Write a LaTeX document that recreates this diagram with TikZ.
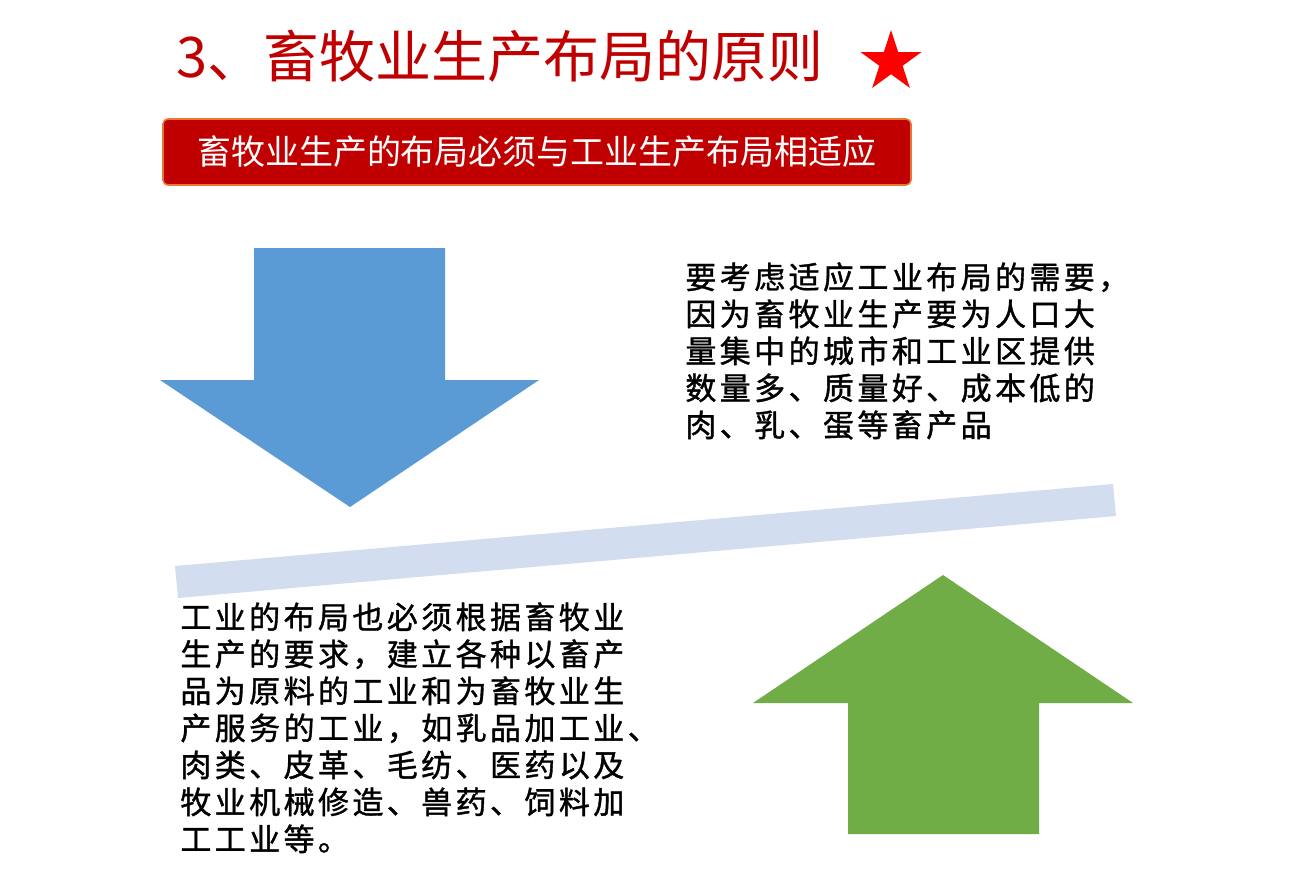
\documentclass[tikz,border=0pt]{standalone}
\usepackage{fontspec}
\newfontfamily\cjk{Noto Sans CJK SC}
\newfontfamily\cjkbody[FakeBold=1.2, LetterSpace=11]{Noto Sans CJK SC}
\usetikzlibrary{shapes.geometric,positioning}
\definecolor{titlered}{RGB}{192,0,0}
\definecolor{bannerred}{RGB}{192,0,0}
\definecolor{bannerline}{RGB}{230,120,50}
\definecolor{arrowblue}{RGB}{91,155,213}
\definecolor{arrowgreen}{RGB}{112,173,71}
\definecolor{barblue}{RGB}{210,222,239}

\tikzset{
    titletext/.style={font=\cjk\fontsize{28}{30}\selectfont, text=titlered, inner sep=0pt, anchor=west},
    banner/.style={fill=bannerred, draw=bannerline, line width=0.8pt, rounded corners=2.5pt},
    bannertext/.style={font=\cjk\fontsize{17}{19}\selectfont, text=white, inner sep=0pt},
    bodytext/.style={font=\cjkbody\fontsize{15.5}{18.5}\selectfont, text=black, align=left, inner sep=0pt, anchor=north west}
}

\begin{document}
\begin{tikzpicture}[x=0.5pt, y=-0.5pt]
    \useasboundingbox (0,0) rectangle (1292,884);
    \fill[white] (0,0) rectangle (1292,884);

    % Title and star
    \node[titletext] (title) at (176,56) {3、畜牧业生产布局的原则};
    \node[star, star points=5, star point ratio=2.618, fill=red, inner sep=0pt,
          minimum size=32pt] (mark) at (891,62) {};

    % Banner
    \draw[banner] (163,119) rectangle (911,185);
    \node[bannertext] (bannerlabel) at (537,152) {畜牧业生产的布局必须与工业生产布局相适应};

    % Down arrow (blue)
    \fill[arrowblue] (254,248) -- (445,248) -- (445,380) -- (539,380)
        -- (350,507) -- (160,380) -- (254,380) -- cycle;

    % Slanted bar
    \fill[barblue] (175,566) -- (1113,484) -- (1116,516) -- (178,598) -- cycle;

    % Up arrow (green)
    \fill[arrowgreen] (848,834) -- (1039,834) -- (1039,703) -- (1133,703)
        -- (943,575) -- (753,703) -- (848,703) -- cycle;

    % Texts
    \node[bodytext] (righttext) at (685,262) {要考虑适应工业布局的需要，\\因为畜牧业生产要为人口大\\量集中的城市和工业区提供\\数量多、质量好、成本低的\\肉、乳、蛋等畜产品};
    \node[bodytext] (lefttext) at (180,602) {工业的布局也必须根据畜牧业\\生产的要求，建立各种以畜产\\品为原料的工业和为畜牧业生\\产服务的工业，如乳品加工业、\\肉类、皮革、毛纺、医药以及\\牧业机械修造、兽药、饲料加\\工工业等。};
\end{tikzpicture}
\end{document}
